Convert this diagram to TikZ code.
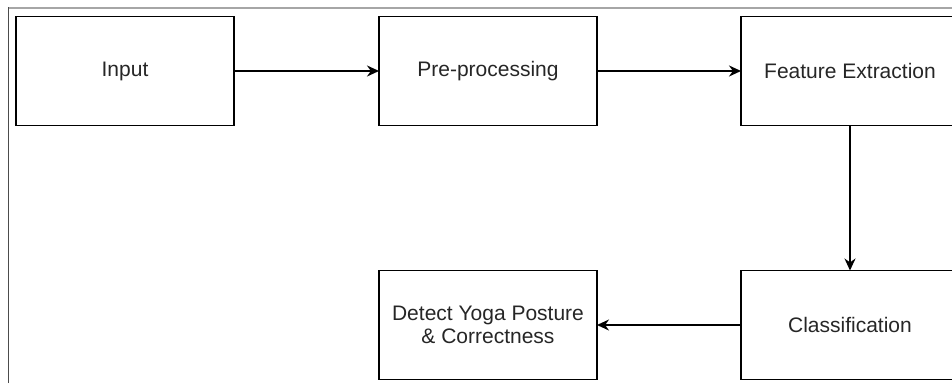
\documentclass[tikz,border=0pt]{standalone}
\usepackage{fontspec}
\setmainfont{Liberation Sans}
\usetikzlibrary{arrows.meta,positioning}
\tikzset{
	stage/.style={draw, line width=1.8pt, minimum width=218pt, minimum height=109pt, inner sep=0pt, outer sep=0pt, align=center, font=\fontsize{21}{23}\selectfont, text=black!85},
	flow/.style={-{Stealth[length=12pt,width=11pt]}, line width=1.8pt}
}

\begin{document}
\begin{tikzpicture}[x=1pt,y=1pt]
			\useasboundingbox (0,0) rectangle (952,383);
			% frame
			\draw[black!35, line width=1.8pt] (8.5,375) -- (952,375);
			\draw[black!70, line width=1.8pt] (8.5,0) -- (8.5,375.9);
			% stages
			\node[stage] (input) at (125,312) {Input};
			\node[stage, right=145pt of input] (pre) {Pre-processing};
			\node[stage, right=144pt of pre] (feat) {Feature Extraction};
			\node[stage, below=145pt of feat] (cls) {Classification};
			\node[stage, left=144pt of cls] (det) {Detect Yoga Posture\\\& Correctness};
			% arrows
			\draw[flow] (input) -- (pre);
			\draw[flow] (pre) -- (feat);
			\draw[flow] (feat) -- (cls);
			\draw[flow] (cls) -- (det);
		\end{tikzpicture}
\end{document}
